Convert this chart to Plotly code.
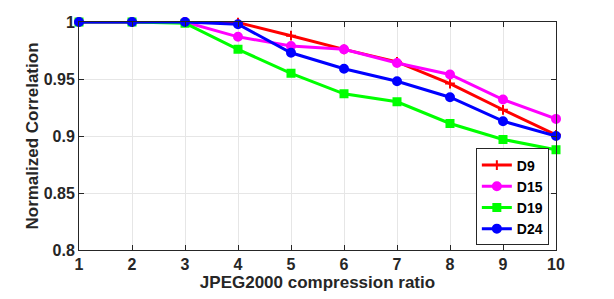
import plotly.graph_objects as go

ratios = [1, 2, 3, 4, 5, 6, 7, 8, 9, 10]
d9 = [1.0, 1.0, 1.0, 0.9995, 0.988, 0.976, 0.965, 0.946, 0.923, 0.901]
d15 = [1.0, 1.0, 1.0, 0.987, 0.979, 0.976, 0.964, 0.954, 0.932, 0.915]
d19 = [1.0, 1.0, 0.999, 0.976, 0.955, 0.937, 0.930, 0.911, 0.897, 0.888]
d24 = [1.0, 1.0, 1.0, 0.998, 0.973, 0.959, 0.948, 0.934, 0.913, 0.900]

series = [
    ("D9", d9, "#ff0000", "cross-thin-open", 7),
    ("D15", d15, "#ff00ff", "circle", 8),
    ("D19", d19, "#00ff00", "square", 7),
    ("D24", d24, "#0000ff", "circle", 8),
]

yticks = [0.8, 0.85, 0.9, 0.95, 1.0]
yticktext = ["0.8", "0.85", "0.9", "0.95", "1"]

fig = go.Figure()
for name, vals, color, sym, sz in series:
    fig.add_trace(go.Scatter(
        x=ratios, y=vals, name=name, mode="lines+markers",
        line=dict(color=color, width=3),
        marker=dict(symbol=sym, size=sz, color=color,
                    line=dict(color=color, width=2)),
        cliponaxis=False,
    ))

FAM = "Liberation Sans, Arial, sans-serif"
axcol = "#262626"

fig.update_layout(
    width=614, height=299,
    margin=dict(l=79, r=58, t=22, b=49),
    plot_bgcolor="white", paper_bgcolor="white",
    font=dict(family=FAM, size=14, color=axcol, weight="bold"),
    showlegend=True,
    legend=dict(
        x=0.985, y=0.02, xanchor="right", yanchor="bottom",
        bgcolor="white", bordercolor=axcol, borderwidth=1,
        font=dict(family=FAM, size=14, color="black", weight="bold"),
        itemwidth=30, tracegroupgap=0,
    ),
    xaxis=dict(
        range=[1, 10], tickvals=ratios, showgrid=True, gridcolor="#e6e6e6", gridwidth=1,
        showline=True, linecolor=axcol, linewidth=1, mirror="ticks",
        ticks="inside", ticklen=5, tickcolor=axcol, zeroline=False, automargin=False,
        title=dict(text="JPEG2000 compression ratio", standoff=3,
                   font=dict(family=FAM, size=17, weight="bold", color=axcol)),
        tickfont=dict(family=FAM, size=16, weight="bold", color=axcol),
    ),
    yaxis=dict(
        range=[0.8, 1.0], tickvals=yticks, ticktext=yticktext, showgrid=True,
        gridcolor="#e6e6e6", gridwidth=1,
        showline=True, linecolor=axcol, linewidth=1, mirror="ticks",
        ticks="inside", ticklen=5, tickcolor=axcol, zeroline=False, automargin=False,
        title=dict(text="Normalized Correlation", standoff=0,
                   font=dict(family=FAM, size=17, weight="bold", color=axcol)),
        tickfont=dict(family=FAM, size=16, weight="bold", color=axcol),
    ),
)

fig.write_html("out.html", config={"displayModeBar": False},
               post_script="document.body.style.margin='0';")
